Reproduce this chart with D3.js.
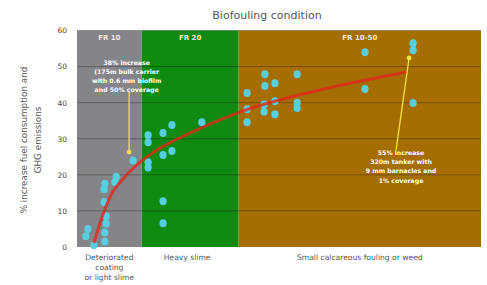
<!DOCTYPE html>
<html><head><meta charset="utf-8">
<script src="https://cdn.jsdelivr.net/npm/d3@7"></script>
<style>body{margin:0;background:#fff}svg{display:block}text{font-family:"DejaVu Sans",sans-serif}</style>
</head><body>
<script>
// ---- data ----
const bands = [
  {name:"FR 10", cond:["Deteriorated","coating","or light slime"], x0:0, x1:16, color:"#858589"},
  {name:"FR 20", cond:["Heavy slime"], x0:16, x1:40, color:"#118a12"},
  {name:"FR 10-50", cond:["Small calcareous fouling or weed"], x0:40, x1:100, color:"#a56e03"}
];
const pointX = [2.2,2.7,4.2,6.9,6.9,7.2,7.2,6.7,6.7,6.9,9.4,9.7,13.9,
  17.6,17.6,17.6,17.6,21.3,23.5,30.9,21.3,23.5,21.3,21.3,
  46.5,54.5,46.5,49,42.1,49,46.3,46.3,49,54.5,54.5,42.1,42.1,71.3,71.3,83.2,83.2,83.2];
const pointY = [3,5,0.5,1.5,4,6.5,8.5,12.5,16,17.5,18,19.5,24,
  31,29,23.5,22,31.6,33.8,34.6,25.5,26.6,12.7,6.6,
  47.9,47.9,44.6,45.4,42.7,40.4,39.5,37.5,36.8,40,38.5,38.2,34.6,54,43.8,56.5,54.5,39.9];
const trendX = [4.2,6.2,8.2,11.6,15.6,19.8,28,40.3,60.1,81.7];
const trendY = [1.1,8.3,13.9,19.1,23.5,26.9,31.6,37.4,43.5,48.5];
const yTicks = [0,10,20,30,40,50,60];
const notes = [
  {lines:["38% increase","(175m bulk carrier","with 0.6 mm biofilm","and 50% coverage"], x:12.3, y:50.5, ax:12.9, ay0:43, ay1:26.3},
  {lines:["55% increase","320m tanker with","9 mm barnacles and","1% coverage"], x:80.2, y:25.5, ax:79.0, ay0:27, ax1:82.2, ay1:52.4}
];

const W=487,H=285;
const svg=d3.select("body").append("svg").attr("width",W).attr("height",H);
const x=d3.scaleLinear().domain([0,100]).range([77,481]);
const y=d3.scaleLinear().domain([0,60]).range([247,30.5]);

svg.append("text").attr("x",267).attr("y",19).attr("text-anchor","middle")
  .attr("font-size",11).attr("fill","#555").text("Biofouling condition");

// bands
svg.selectAll("rect.band").data(bands).join("rect").attr("class","band")
  .attr("x",d=>x(d.x0)).attr("width",d=>x(d.x1)-x(d.x0))
  .attr("y",y(60)).attr("height",y(0)-y(60)).attr("fill",d=>d.color);

// gridlines
svg.selectAll("line.grid").data(yTicks.filter(t=>t>0)).join("line").attr("class","grid")
  .attr("x1",x(0)).attr("x2",x(100)).attr("y1",d=>y(d)).attr("y2",d=>y(d))
  .attr("stroke","#000").attr("stroke-opacity",0.28).attr("stroke-width",1);

// band headers
svg.selectAll("text.hdr").data(bands).join("text").attr("class","hdr")
  .attr("x",d=>(x(d.x0)+x(d.x1))/2).attr("y",40).attr("text-anchor","middle")
  .attr("font-size",7).attr("font-weight","bold").attr("fill","#f0e8d8").text(d=>d.name);

// condition labels
bands.forEach(b=>{
  b.cond.forEach((l,i)=>{
    svg.append("text").attr("x",(x(b.x0)+x(b.x1))/2 + (b.cond.length>1?0:(b.x0===16?-3:0)))
      .attr("y",260+i*10).attr("text-anchor","middle").attr("font-size",7.6)
      .attr("fill","#555").text(l);
  });
});

// y axis
const ax=d3.axisLeft(y).tickValues(yTicks).tickSize(0).tickPadding(0);
const g=svg.append("g").attr("transform","translate(67,0)").call(ax);
g.select(".domain").remove();
g.selectAll("text").attr("font-size",7.5).attr("fill","#444").attr("font-family","DejaVu Sans, sans-serif");

// y title
const yt=svg.append("text").attr("transform","translate(27,140) rotate(-90)")
  .attr("text-anchor","middle").attr("font-size",8.8).attr("fill","#555");
yt.append("tspan").attr("x",0).attr("dy",0).text("% increase fuel consumption and");
yt.append("tspan").attr("x",0).attr("dy",14).text("GHG emissions");

// points
svg.selectAll("ellipse.pt").data(pointX.map((v,i)=>[v,pointY[i]])).join("ellipse").attr("class","pt")
  .attr("cx",d=>x(d[0])).attr("cy",d=>y(d[1])).attr("rx",3.6).attr("ry",4)
  .attr("fill","#57cfe0");

// trend
svg.append("path").datum(trendX.map((v,i)=>[v,trendY[i]]))
  .attr("d",d3.line().x(d=>x(d[0])).y(d=>y(d[1])).curve(d3.curveMonotoneX))
  .attr("fill","none").attr("stroke","#e0281a").attr("stroke-opacity",0.8).attr("stroke-width",3);

// annotations
notes.forEach(n=>{
  const x1 = n.ax1!==undefined ? n.ax1 : n.ax;
  svg.append("line").attr("x1",x(n.ax)).attr("y1",y(n.ay0)).attr("x2",x(x1)).attr("y2",y(n.ay1))
    .attr("stroke","#f2e23a").attr("stroke-width",1.3);
  svg.append("circle").attr("cx",x(x1)).attr("cy",y(n.ay1)).attr("r",2.4).attr("fill","#f5e040");
  n.lines.forEach((l,i)=>{
    svg.append("text").attr("x",x(n.x)).attr("y",y(n.y)+i*9.2).attr("text-anchor","middle")
      .attr("font-size",6.2).attr("font-weight","bold").attr("fill","#fff").text(l);
  });
});
</script>
</body></html>
